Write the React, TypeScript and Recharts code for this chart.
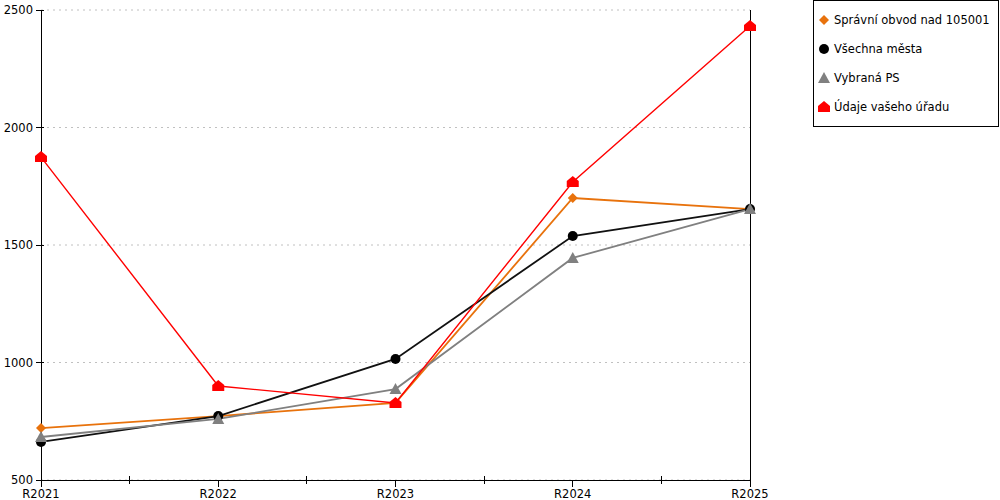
import { LineChart, Line, XAxis, YAxis, CartesianGrid, ReferenceLine } from "recharts";

const categories = ["R2021", "R2022", "R2023", "R2024", "R2025"];
const spravniObvod = [721, 772, 828, 1700, 1653];
const vsechnaMesta = [662, 772, 1015, 1538, 1653];
const vybranaPS = [683, 760, 887, 1445, 1653];
const udajeUradu = [1874, 900, 828, 1768, 2432];
const yTicks = [500, 1000, 1500, 2000, 2500];
const xTicks = [0, 0.5, 1, 1.5, 2, 2.5, 3, 3.5, 4];

const font = "DejaVu Sans, Verdana, sans-serif";
const fs = 11.5;

const series = [
  { key: "obvod", name: "Správní obvod nad 105001", color: "#e8720c", shape: "diamond", width: 1.8 },
  { key: "mesta", name: "Všechna města", color: "#111111", shape: "circle", width: 1.8 },
  { key: "ps", name: "Vybraná PS", color: "#808080", shape: "triangle", width: 1.8 },
  { key: "urad", name: "Údaje vašeho úřadu", color: "#ff0000", shape: "house", width: 1.4 },
];

const data = categories.map((c, i) => ({
  x: i,
  label: c,
  obvod: spravniObvod[i],
  mesta: vsechnaMesta[i],
  ps: vybranaPS[i],
  urad: udajeUradu[i],
}));

function Marker({ shape, cx, cy, color }: { shape: string; cx: number; cy: number; color: string }) {
  if (shape === "diamond") {
    return <polygon points={`${cx},${cy - 5} ${cx + 5},${cy} ${cx},${cy + 5} ${cx - 5},${cy}`} fill={color} />;
  }
  if (shape === "circle") {
    return <circle cx={cx} cy={cy} r={5} fill="#000" />;
  }
  if (shape === "triangle") {
    return <polygon points={`${cx},${cy - 6} ${cx + 6},${cy + 5} ${cx - 6},${cy + 5}`} fill={color} />;
  }
  return (
    <polygon
      points={`${cx},${cy - 6} ${cx + 6},${cy - 1} ${cx + 6},${cy + 5} ${cx - 6},${cy + 5} ${cx - 6},${cy - 1}`}
      fill={color}
    />
  );
}

function YTick(props: any) {
  const { x, y, payload } = props;
  return (
    <g>
      <line x1={x - 5} x2={x + 3} y1={y} y2={y} stroke="#000" shapeRendering="crispEdges" />
      <text x={x - 8} y={y + 4} textAnchor="end" fontSize={fs} fontFamily={font} fill="#000">
        {payload.value}
      </text>
    </g>
  );
}

function XTick(props: any) {
  const { x, y, payload } = props;
  const v = payload.value;
  if (!Number.isInteger(v)) {
    return <line x1={x} x2={x} y1={y - 4} y2={y + 4} stroke="#000" shapeRendering="crispEdges" />;
  }
  return (
    <g>
      <line x1={x} x2={x} y1={y} y2={y + 7} stroke="#000" shapeRendering="crispEdges" />
      <text x={x} y={y + 18} textAnchor="middle" fontSize={fs} fontFamily={font} fill="#000">
        {categories[v]}
      </text>
    </g>
  );
}

function LegendBox() {
  return (
    <div
      style={{
        position: "absolute",
        left: 813,
        top: 0,
        border: "1px solid #000",
        width: 184,
        height: 125,
        background: "#fff",
      }}
    >
      <svg width={184} height={125} style={{ display: "block" }}>
        {series.map((s, i) => (
          <g key={s.key}>
            <Marker shape={s.shape} cx={10} cy={19 + i * 29} color={s.color} />
            <text x={20} y={23 + i * 29} fontSize={fs} fontFamily={font} fill="#000">
              {s.name}
            </text>
          </g>
        ))}
      </svg>
    </div>
  );
}

export default function App() {
  return (
    <div style={{ position: "absolute", left: 0, top: 0, width: 1000, height: 500, background: "#fff" }}>
      <LineChart width={1000} height={500} data={data} margin={{ top: 10, right: 250, bottom: 0, left: 0 }}>
        <CartesianGrid vertical={false} stroke="#c0c0c0" strokeDasharray="2 4" />
        <XAxis
          dataKey="x"
          type="number"
          domain={[0, 4]}
          ticks={xTicks}
          interval={0}
          height={20}
          axisLine={{ stroke: "#000", shapeRendering: "crispEdges" }}
          tickLine={false}
          tickSize={0}
          tickMargin={0}
          tick={<XTick />}
        />
        <YAxis
          type="number"
          domain={[500, 2500]}
          ticks={yTicks}
          width={41}
          axisLine={{ stroke: "#000", shapeRendering: "crispEdges" }}
          tickLine={false}
          tickSize={0}
          tickMargin={0}
          tick={<YTick />}
        />
        <ReferenceLine x={4} stroke="#000" strokeOpacity={1} shapeRendering="crispEdges" />
        {series.map((s) => (
          <Line
            key={s.key}
            dataKey={s.key}
            name={s.name}
            stroke={s.color}
            strokeWidth={s.width}
            isAnimationActive={false}
            dot={(p: any) => <Marker key={`${s.key}-${p.index}`} shape={s.shape} cx={p.cx} cy={p.cy} color={s.color} />}
            activeDot={false}
          />
        ))}
      </LineChart>
      <LegendBox />
    </div>
  );
}
